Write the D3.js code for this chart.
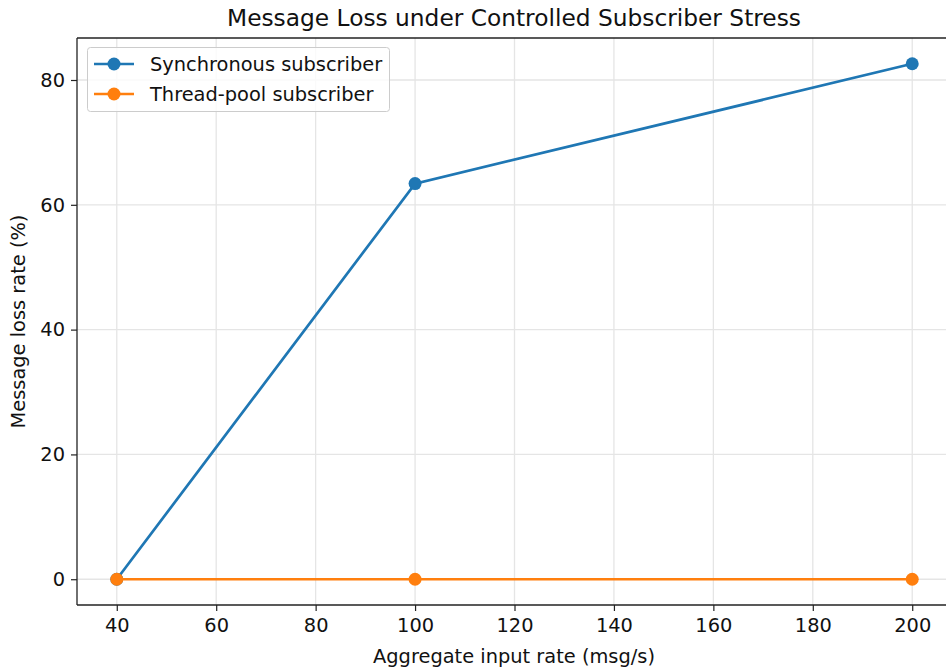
<!DOCTYPE html>
<html>
<head>
<meta charset="utf-8">
<script src="https://cdn.jsdelivr.net/npm/d3@7"></script>
<style>
  body { margin: 0; background: #fff; }
  svg { font-family: "DejaVu Sans", sans-serif; }
</style>
</head>
<body>
<svg id="chart" width="946" height="670"></svg>
<script>
// data
const rates = [40, 100, 200]
const syncLoss = [0, 63.4, 82.6]
const poolLoss = [0, 0, 0]
const xTicks = [40, 60, 80, 100, 120, 140, 160, 180, 200]
const yTicks = [0, 20, 40, 60, 80]
const seriesNames = ["Synchronous subscriber", "Thread-pool subscriber"]
const seriesColors = ["#1f77b4", "#ff7f0e"]

const svg = d3.select("#chart")
const margin = {left: 77, top: 38, right: -6, bottom: 65}
const W = 946, H = 670
const fs = 19.4

const x = d3.scaleLinear().domain([32, 208]).range([margin.left, W - margin.right])
const y = d3.scaleLinear().domain([-4.13, 86.73]).range([H - margin.bottom, margin.top])

// grid
svg.append("g").selectAll("line").data(xTicks).enter().append("line")
  .attr("x1", d => x(d)).attr("x2", d => x(d))
  .attr("y1", y.range()[0]).attr("y2", y.range()[1])
  .attr("stroke", "#e5e5e5").attr("stroke-width", 1.3)
svg.append("g").selectAll("line").data(yTicks).enter().append("line")
  .attr("y1", d => y(d)).attr("y2", d => y(d))
  .attr("x1", x.range()[0]).attr("x2", x.range()[1])
  .attr("stroke", "#e5e5e5").attr("stroke-width", 1.3)

// axes
const xAxis = svg.append("g")
  .attr("transform", `translate(0,${y.range()[0]})`)
  .call(d3.axisBottom(x).tickValues(xTicks).tickSize(6).tickPadding(5))
const yAxis = svg.append("g")
  .attr("transform", `translate(${x.range()[0]},0)`)
  .call(d3.axisLeft(y).tickValues(yTicks).tickSize(6).tickPadding(6))

;[xAxis, yAxis].forEach(a => {
  a.attr("font-size", fs).attr("font-family", "DejaVu Sans")
  a.select(".domain").remove()
  a.selectAll("line").attr("stroke", "#222").attr("stroke-width", 1.2)
  a.selectAll("text").attr("fill", "#111")
})
xAxis.selectAll("text").attr("dy", "0.8em")

// spines
svg.append("line").attr("x1", x.range()[0]).attr("x2", x.range()[0])
  .attr("y1", y.range()[0]).attr("y2", y.range()[1]).attr("stroke", "#222").attr("stroke-width", 1.3)
svg.append("line").attr("x1", x.range()[0]).attr("x2", W)
  .attr("y1", y.range()[0]).attr("y2", y.range()[0]).attr("stroke", "#222").attr("stroke-width", 1.3)
svg.append("line").attr("x1", x.range()[0]).attr("x2", W)
  .attr("y1", y.range()[1]).attr("y2", y.range()[1]).attr("stroke", "#222").attr("stroke-width", 1.3)

// lines
const line = d3.line().x((d, i) => x(rates[i])).y(d => y(d))
;[syncLoss, poolLoss].forEach((vals, k) => {
  const g = svg.append("g")
  g.append("path").attr("d", line(vals)).attr("fill", "none")
    .attr("stroke", seriesColors[k]).attr("stroke-width", 2.7)
  g.selectAll("circle").data(vals).enter().append("circle")
    .attr("cx", (d, i) => x(rates[i])).attr("cy", d => y(d))
    .attr("r", 6.5).attr("fill", seriesColors[k])
})

// legend
const leg = svg.append("g")
leg.append("rect").attr("x", 87.5).attr("y", 47.5).attr("width", 302).attr("height", 64)
  .attr("rx", 3).attr("fill", "#fff").attr("fill-opacity", 0.8)
  .attr("stroke", "#ccc").attr("stroke-width", 1)
seriesNames.forEach((name, k) => {
  const yy = 64 + k * 30
  leg.append("line").attr("x1", 94).attr("x2", 134).attr("y1", yy).attr("y2", yy)
    .attr("stroke", seriesColors[k]).attr("stroke-width", 2.7)
  leg.append("circle").attr("cx", 114).attr("cy", yy).attr("r", 6.5).attr("fill", seriesColors[k])
  leg.append("text").attr("x", 150).attr("y", yy).attr("dy", "0.35em")
    .attr("font-size", fs).attr("fill", "#111").text(name)
})

// titles
svg.append("text").attr("x", 514).attr("y", 26)
  .attr("text-anchor", "middle").attr("font-size", 23.3).attr("fill", "#111")
  .text("Message Loss under Controlled Subscriber Stress")
svg.append("text").attr("x", 514).attr("y", 663)
  .attr("text-anchor", "middle").attr("font-size", fs).attr("fill", "#111")
  .text("Aggregate input rate (msg/s)")
svg.append("text").attr("transform", `translate(25,${(38 + 605) / 2}) rotate(-90)`)
  .attr("text-anchor", "middle").attr("font-size", fs).attr("fill", "#111")
  .text("Message loss rate (%)")
</script>
</body>
</html>
